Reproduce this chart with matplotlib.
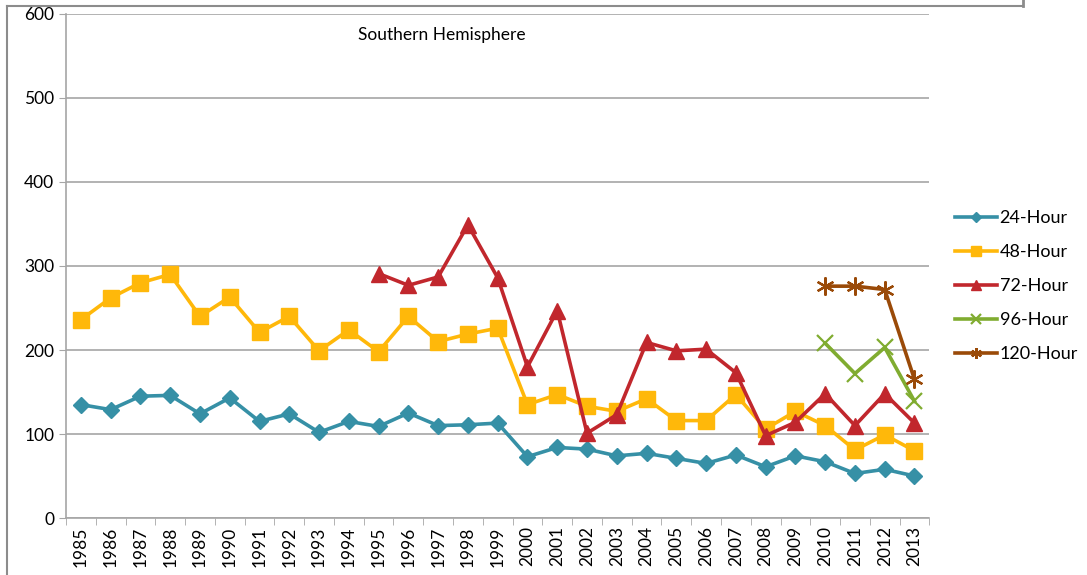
import matplotlib.pyplot as plt
from matplotlib.lines import Line2D
import numpy as np

plt.rcParams['font.family'] = ['Lato', 'DejaVu Sans']

years = [str(y) for y in range(1985, 2014)]

h24 = [135, 129, 145, 146, 124, 143, 115, 124, 102, 115, 109, 125, 110, 111, 113,
       73, 84, 82, 74, 77, 71, 65, 75, 61, 74, 67, 53, 58, 50]
h48 = [236, 262, 280, 290, 240, 263, 221, 240, 199, 224, 198, 240, 210, 219, 226,
       135, 147, 133, 127, 142, 116, 116, 147, 106, 127, 110, 81, 99, 80]
# 72 小时从 1995 年开始
h72 = [291, 277, 287, 349, 286, 180, 247, 101, 123, 209, 199, 201, 173, 98, 114,
       148, 110, 148, 113]
# 96 / 120 小时从 2010 年开始
h96 = [208, 172, 203, 139]
h120 = [276, 276, 272, 165]

idx = np.arange(len(years))

fig = plt.figure(figsize=(10.87, 5.75), dpi=100)
ax = fig.add_axes([0.0607, 0.0991, 0.7943, 0.8766])

ax.plot(idx, h24, color='#3690A6', lw=2.6, marker='D', ms=8, label='24-Hour')
ax.plot(idx, h48, color='#FFB80A', lw=2.6, marker='s', ms=11, label='48-Hour')
ax.plot(idx[10:], h72, color='#C1272D', lw=2.6, marker='^', ms=11, label='72-Hour')
ax.plot(idx[25:], h96, color='#80AC30', lw=2.6, marker='x', ms=11, mew=1.6, label='96-Hour')
ax.plot(idx[25:], h120, color='#9A4A08', lw=2.6, marker=(6, 2, 0), ms=13, mew=1.6, label='120-Hour')

ax.set_xlim(-0.5, len(years) - 0.5)
ax.set_ylim(0, 600)
ax.set_yticks(range(0, 601, 100))
ax.yaxis.grid(True, color='#a6a6a6', lw=1.2)
ax.set_axisbelow(True)

ax.set_xticks(idx)
ax.set_xticklabels(years, rotation=90, fontsize=12.5)
ax.set_xticks(np.arange(-0.5, len(years), 1), minor=True)
ax.tick_params(axis='x', which='major', length=0, pad=6)
ax.tick_params(axis='x', which='minor', length=5, color='#a6a6a6')
ax.tick_params(axis='y', length=5, color='#a6a6a6', labelsize=12.5)

for s in ['top', 'right']:
    ax.spines[s].set_visible(False)
for s in ['left', 'bottom']:
    ax.spines[s].set_color('#a6a6a6')
    ax.spines[s].set_linewidth(1.2)

ax.text(0.435, 0.958, 'Southern Hemisphere', transform=ax.transAxes,
        ha='center', va='center', fontsize=12.5)

ax.legend(loc='center left', bbox_to_anchor=(1.03, 0.46), frameon=False, borderpad=0,
          borderaxespad=0, fontsize=13, handlelength=2.3, handletextpad=0.15,
          labelspacing=1.0, markerscale=0.6)

# 外框残留线
fig.add_artist(Line2D([7 / 1087, 7 / 1087], [0, 1 - 6 / 575], color='#8c8c8c', lw=1.5))
fig.add_artist(Line2D([7 / 1087, 1023 / 1087], [1 - 6 / 575, 1 - 6 / 575], color='#8c8c8c', lw=1.5))
fig.add_artist(Line2D([1023 / 1087, 1023 / 1087], [1 - 6 / 575, 1], color='#8c8c8c', lw=2))

fig.savefig('out.png', dpi=100)
